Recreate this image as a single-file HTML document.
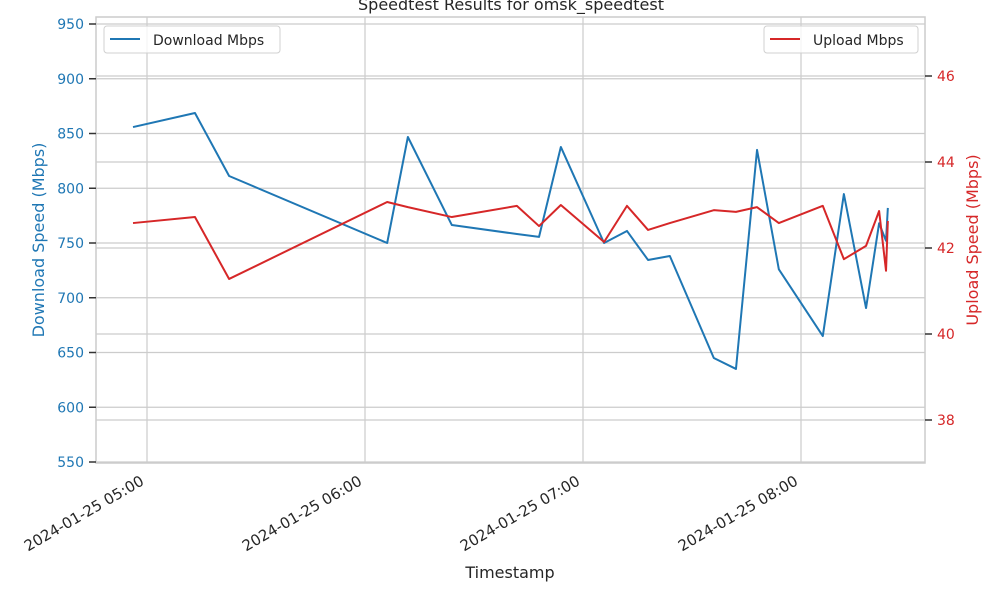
<!DOCTYPE html>
<html><head><meta charset="utf-8"><style>
body{margin:0;background:#fff;}
svg{display:block;font-family:"DejaVu Sans","Liberation Sans",sans-serif;}
</style></head><body>
<svg id="chart" width="1000" height="600" viewBox="0 0 1000 600" xmlns="http://www.w3.org/2000/svg">
<text x="511" y="10" text-anchor="middle" font-size="16" fill="#262626">Speedtest Results for omsk_speedtest</text>
<g id="grid"></g>
<g id="series"></g>
<rect x="96" y="17" width="829" height="446" fill="none" stroke="#cccccc" stroke-width="1.5"/>
<g id="axes"></g>
<text x="510" y="578" text-anchor="middle" font-size="16" fill="#262626">Timestamp</text>
<text transform="translate(44,240) rotate(-90)" text-anchor="middle" font-size="16" fill="#1f77b4">Download Speed (Mbps)</text>
<text transform="translate(978,240) rotate(-90)" text-anchor="middle" font-size="16" fill="#d62728">Upload Speed (Mbps)</text>
<g>
<rect x="104" y="26" width="176" height="27" rx="3" fill="#fff" fill-opacity="0.8" stroke="#d0d0d0"/>
<line x1="110" y1="39" x2="140" y2="39" stroke="#1f77b4" stroke-width="2"/>
<text x="153" y="45" font-size="14" fill="#262626">Download Mbps</text>
</g>
<g>
<rect x="764" y="26" width="154" height="27" rx="3" fill="#fff" fill-opacity="0.8" stroke="#d0d0d0"/>
<line x1="770" y1="39" x2="800" y2="39" stroke="#d62728" stroke-width="2"/>
<text x="813" y="45" font-size="14" fill="#262626">Upload Mbps</text>
</g>
</svg>
<script>
const times = [-3.85,13.2,22.6,66.1,71.8,83.9,101.8,107.9,113.9,125.8,132.1,137.9,143.9,156,162.1,167.9,173.9,186,191.8,197.9,201.5,203.4,203.9];
const download = [855.9,868.7,811.2,750,846.8,766.4,758.2,755.6,837.7,750,761,734.5,738.1,645,635,835,726,665,794.7,690.6,768,752,782];
const upload = [42.58,42.72,41.28,43.07,42.95,42.72,42.98,42.51,43.0,42.14,42.98,42.42,42.58,42.88,42.84,42.95,42.58,42.98,41.74,42.05,42.86,41.47,42.63];
const leftTicks = [550,600,650,700,750,800,850,900,950];
const rightTicks = [38,40,42,44,46];
const xTickMinutes = [0,60,120,180];
const xTickLabels = ["2024-01-25 05:00","2024-01-25 06:00","2024-01-25 07:00","2024-01-25 08:00"];

const NS="http://www.w3.org/2000/svg";
const xs = m => 147 + m*218/60;
const yl = v => 462 - (v-550)*54.75/50;
const yr = v => 248 - (v-42)*43;
function mk(tag, attrs, parent){const e=document.createElementNS(NS,tag);for(const k in attrs)e.setAttribute(k,attrs[k]);parent.appendChild(e);return e;}
const grid=document.getElementById('grid'), axes=document.getElementById('axes'), series=document.getElementById('series');

leftTicks.forEach(v=>{
  const g=mk('line',{x1:96,x2:925,y1:yl(v),y2:yl(v),stroke:'#cccccc','stroke-width':1.2},grid);
  
  
  mk('line',{x1:89,x2:96,y1:yl(v),y2:yl(v),stroke:'#333','stroke-width':1.5},axes);
  const t=mk('text',{x:84,y:yl(v)+5,'text-anchor':'end','font-size':14,fill:'#1f77b4'},axes);
  t.textContent=v;
  
  
});
rightTicks.forEach(v=>{
  const g=mk('line',{x1:96,x2:925,y1:yr(v),y2:yr(v),stroke:'#cccccc','stroke-width':1.2},grid);
  
  
  mk('line',{x1:925,x2:932,y1:yr(v),y2:yr(v),stroke:'#333','stroke-width':1.5},axes);
  const t=mk('text',{x:937,y:yr(v)+5,'font-size':14,fill:'#d62728'},axes);
  t.textContent=v;
  
  
});
xTickMinutes.forEach((m,i)=>{
  const x=xs(m);
  const g=mk('line',{x1:x,x2:x,y1:17,y2:463,stroke:'#cccccc','stroke-width':1.2},grid);
  
  
  const t=mk('text',{transform:`translate(${x-2},${484}) rotate(-30)`,'text-anchor':'end','font-size':15,fill:'#262626'},axes);
  t.textContent=xTickLabels[i];
  
  
});
const dl=mk('polyline',{points:times.map((m,i)=>xs(m)+','+yl(download[i])).join(' '),fill:'none',stroke:'#1f77b4','stroke-width':2,'stroke-linejoin':'round'},series);


const ul=mk('polyline',{points:times.map((m,i)=>xs(m)+','+yr(upload[i])).join(' '),fill:'none',stroke:'#d62728','stroke-width':2,'stroke-linejoin':'round'},series);


</script>
</body></html>
